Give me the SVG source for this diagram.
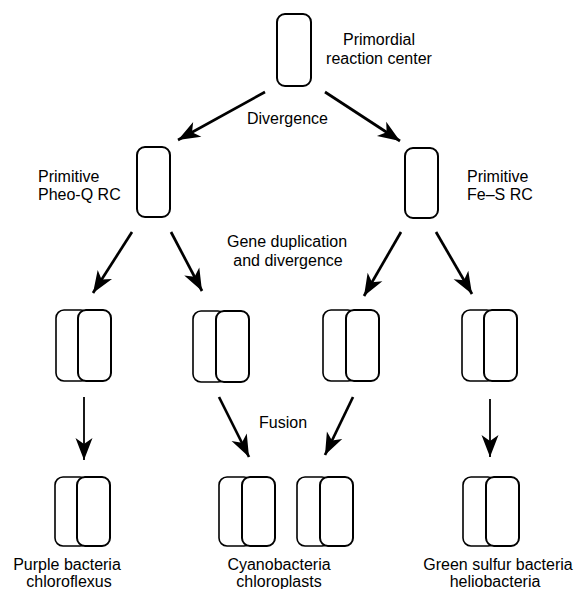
<svg xmlns="http://www.w3.org/2000/svg" width="579" height="589" viewBox="0 0 579 589">
<style>
  text { font-family: "Liberation Sans", Arial, sans-serif; font-size: 16px; fill: #000; }
  .mid { text-anchor: middle; }
  .box { fill: #fff; stroke: #000; stroke-width: 2; }
  .back { fill: #fff; stroke: #000; stroke-width: 1.6; }
  .arr { fill: none; stroke: #000; stroke-width: 2.7; marker-end: url(#head); }
  .arrthin { fill: none; stroke: #000; stroke-width: 1.8; marker-end: url(#head); }
</style>
<defs>
  <marker id="head" viewBox="-24 -10 26 20" markerWidth="26" markerHeight="20" refX="0" refY="0" markerUnits="userSpaceOnUse" orient="auto">
    <path d="M0,0 L-22,-8.5 L-16,0 L-22,8.5 Z" fill="#000"/>
  </marker>
</defs>
<rect width="579" height="589" fill="#fff"/>

<g id="connectors">
  <line class="arr" x1="265" y1="92" x2="178" y2="140"/>
  <line class="arr" x1="325" y1="92" x2="400" y2="141"/>
  <line class="arr" x1="132" y1="232" x2="93" y2="293"/>
  <line class="arr" x1="171" y1="232" x2="202" y2="291"/>
  <line class="arr" x1="401" y1="232" x2="364" y2="296"/>
  <line class="arr" x1="436" y1="232" x2="472" y2="294"/>
  <line class="arrthin" x1="84" y1="397" x2="84" y2="460"/>
  <line class="arr" x1="219" y1="397" x2="249" y2="457"/>
  <line class="arr" x1="353" y1="397" x2="325" y2="455"/>
  <line class="arrthin" x1="490" y1="399" x2="490" y2="457"/>
</g>

<g id="primordial">
  <rect class="box" x="277" y="14" width="34" height="72" rx="8"/>
  <text class="mid" x="379" y="45">Primordial</text>
  <text class="mid" x="379" y="64">reaction center</text>
</g>

<g id="divergence-label">
  <text x="247" y="124">Divergence</text>
</g>

<g id="pheo-q">
  <rect class="box" x="137" y="147" width="33" height="70" rx="8"/>
  <text x="38" y="182">Primitive</text>
  <text x="38" y="200">Pheo-Q RC</text>
</g>

<g id="fe-s">
  <rect class="box" x="405" y="148" width="33" height="70" rx="8"/>
  <text x="467" y="182">Primitive</text>
  <text x="467" y="200">Fe–S RC</text>
</g>

<g id="gene-dup-label">
  <text class="mid" x="287" y="247">Gene duplication</text>
  <text class="mid" x="288" y="266">and divergence</text>
</g>

<g id="pair1">
  <rect class="back" x="56" y="310" width="33" height="71" rx="8"/>
  <rect class="box" x="78" y="310" width="33" height="71" rx="8"/>
</g>
<g id="pair2">
  <rect class="back" x="193" y="311" width="33" height="71" rx="8"/>
  <rect class="box" x="216" y="311" width="33" height="71" rx="8"/>
</g>
<g id="pair3">
  <rect class="back" x="323" y="310" width="33" height="71" rx="8"/>
  <rect class="box" x="346" y="310" width="33" height="71" rx="8"/>
</g>
<g id="pair4">
  <rect class="back" x="462" y="310" width="33" height="71" rx="8"/>
  <rect class="box" x="484" y="310" width="33" height="71" rx="8"/>
</g>

<g id="fusion-label">
  <text x="259" y="428">Fusion</text>
</g>

<g id="purple">
  <rect class="back" x="55" y="477" width="33" height="69" rx="8"/>
  <rect class="box" x="77" y="477" width="33" height="69" rx="8"/>
  <text class="mid" x="67" y="570">Purple bacteria</text>
  <text class="mid" x="69" y="587">chloroflexus</text>
</g>

<g id="cyano-a">
  <rect class="back" x="219" y="477" width="33" height="69" rx="8"/>
  <rect class="box" x="242" y="477" width="33" height="69" rx="8"/>
</g>
<g id="cyano-b">
  <rect class="back" x="297" y="477" width="33" height="69" rx="8"/>
  <rect class="box" x="320" y="477" width="33" height="69" rx="8"/>
</g>
<g id="cyano-label">
  <text class="mid" x="279" y="570">Cyanobacteria</text>
  <text class="mid" x="279" y="587">chloroplasts</text>
</g>

<g id="green">
  <rect class="back" x="463" y="477" width="33" height="69" rx="8"/>
  <rect class="box" x="486" y="477" width="33" height="69" rx="8"/>
  <text class="mid" x="498" y="570">Green sulfur bacteria</text>
  <text class="mid" x="495" y="587">heliobacteria</text>
</g>
</svg>
